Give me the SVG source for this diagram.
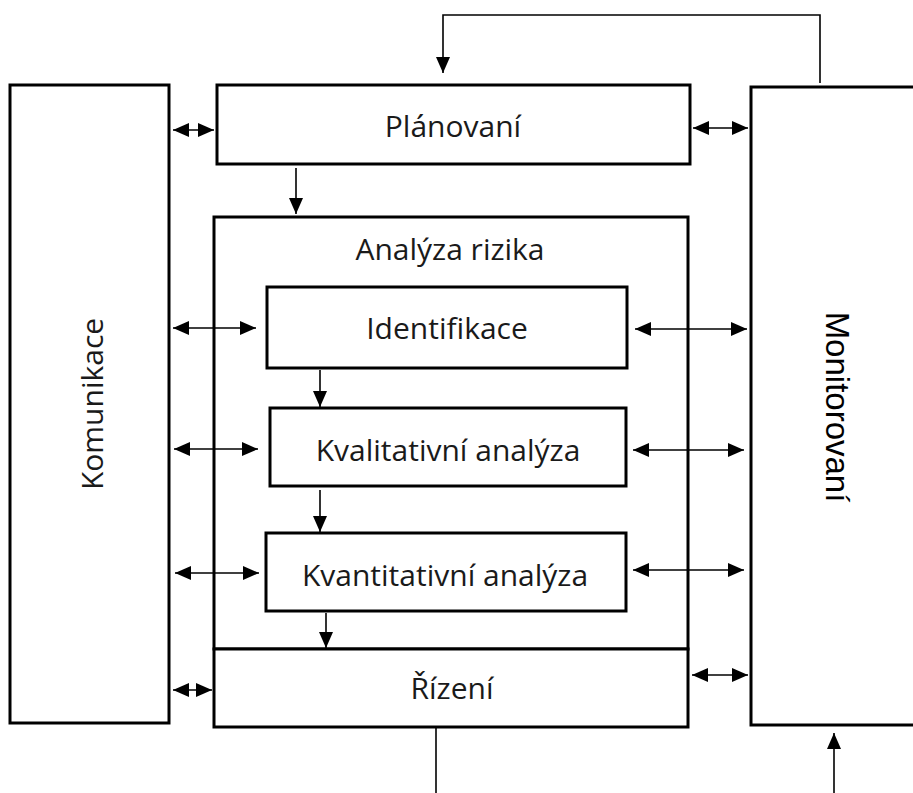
<svg xmlns="http://www.w3.org/2000/svg" width="913" height="793" viewBox="0 0 913 793">
<style>
.box{fill:#fff;stroke:#000;stroke-width:3}
.lbl{font-family:"Open Sans","Liberation Sans",sans-serif;font-size:30px;fill:#1a1a1a;text-anchor:middle}
.lbl2{font-family:"Liberation Sans",Arial,sans-serif;font-size:33px;fill:#000;text-anchor:middle}
.c{stroke:#000;stroke-width:1.6;fill:none}
</style>
<defs>
<marker id="ah" markerUnits="userSpaceOnUse" markerWidth="16" markerHeight="14" refX="16" refY="7" orient="auto-start-reverse">
<path d="M0,0 L16,7 L0,14 Z" fill="#000"/>
</marker>
</defs>
<g id="komunikace"><rect class="box" x="10" y="85" width="159" height="638"/><text class="lbl" transform="translate(103,404) rotate(-90)">Komunikace</text></g>
<g id="monitorovani"><rect class="box" x="751" y="87" width="170" height="638"/><text class="lbl2" transform="translate(826,407) rotate(90)">Monitorovaní</text></g>
<g id="planovani"><rect class="box" x="217" y="85" width="473" height="79"/><text class="lbl" x="453" y="137">Plánovaní</text></g>
<g id="analyza"><rect class="box" x="214" y="217" width="474" height="432"/><text class="lbl" x="450" y="260">Analýza rizika</text></g>
<g id="identifikace"><rect class="box" x="267" y="287" width="360" height="81"/><text class="lbl" x="447" y="339">Identifikace</text></g>
<g id="kvalitativni"><rect class="box" x="270" y="408" width="356" height="78"/><text class="lbl" x="448" y="461">Kvalitativní analýza</text></g>
<g id="kvantitativni"><rect class="box" x="266" y="533" width="360" height="78"/><text class="lbl" x="445" y="586">Kvantitativní analýza</text></g>
<g id="rizeni"><rect class="box" x="214" y="649" width="474" height="78"/><text class="lbl" x="452" y="699">Řízení</text></g>
<g id="connectors">
<path class="c" d="M820,83 L820,15 L443,15 L443,73" marker-end="url(#ah)"/>
<path class="c" d="M296,168 L296,214" marker-end="url(#ah)"/>
<path class="c" d="M320,370 L320,407" marker-end="url(#ah)"/>
<path class="c" d="M320,490 L320,532" marker-end="url(#ah)"/>
<path class="c" d="M326,613 L326,648" marker-end="url(#ah)"/>
<path class="c" d="M173,130 L214,130" marker-start="url(#ah)" marker-end="url(#ah)"/>
<path class="c" d="M693,128 L748,128" marker-start="url(#ah)" marker-end="url(#ah)"/>
<path class="c" d="M173,328 L256,328" marker-start="url(#ah)" marker-end="url(#ah)"/>
<path class="c" d="M174,449 L258,449" marker-start="url(#ah)" marker-end="url(#ah)"/>
<path class="c" d="M175,573 L259,573" marker-start="url(#ah)" marker-end="url(#ah)"/>
<path class="c" d="M635,329 L747,329" marker-start="url(#ah)" marker-end="url(#ah)"/>
<path class="c" d="M633,450 L744,450" marker-start="url(#ah)" marker-end="url(#ah)"/>
<path class="c" d="M633,570 L744,570" marker-start="url(#ah)" marker-end="url(#ah)"/>
<path class="c" d="M173,690 L212,690" marker-start="url(#ah)" marker-end="url(#ah)"/>
<path class="c" d="M692,675 L748,675" marker-start="url(#ah)" marker-end="url(#ah)"/>
<path class="c" d="M436,727 L436,793"/>
<path class="c" d="M834,793 L834,733" marker-end="url(#ah)"/>
</g>
</svg>
